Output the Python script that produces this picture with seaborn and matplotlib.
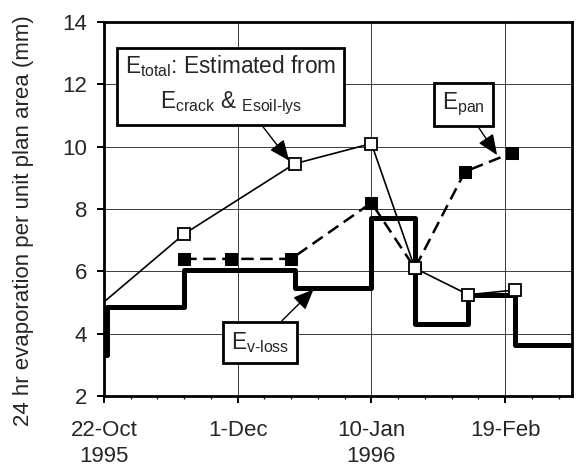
import matplotlib
matplotlib.use("Agg")
import matplotlib.pyplot as plt
import numpy as np
import pandas as pd
import seaborn as sns

# Total evaporation estimated from crack and soil-lysimeter readings (mm/day)
etotal_dates = ["1995-10-13", "1995-11-15", "1995-12-18", "1996-01-10",
                "1996-01-23", "1996-02-08", "1996-02-22"]
etotal_mm = [4.2, 7.2, 9.45, 10.1, 6.1, 5.25, 5.4]

# Pan evaporation (mm/day)
epan_dates = ["1995-11-15", "1995-11-29", "1995-12-17", "1996-01-10",
              "1996-01-23", "1996-02-07", "1996-02-21"]
epan_mm = [6.4, 6.4, 6.4, 8.2, 6.1, 9.2, 9.8]

# Volume-loss evaporation, held constant between readings (mm/day)
evloss_dates = ["1995-10-15", "1995-10-23", "1995-11-15", "1995-12-18",
                "1996-01-10", "1996-01-23", "1996-02-08", "1996-02-22",
                "1996-03-12"]
evloss_mm = [3.3, 4.85, 6.05, 5.45, 7.7, 4.3, 5.25, 3.65, 3.65]

tick_dates = ["1995-10-22", "1995-12-01", "1996-01-10", "1996-02-19"]
tick_labels = ["22-Oct\n1995", "1-Dec", "10-Jan\n1996", "19-Feb"]
y_ticks = [2, 4, 6, 8, 10, 12, 14]

origin = pd.Timestamp("1995-10-22")


def days(dates):
    return (pd.to_datetime(dates) - origin).days.to_numpy()


etotal = pd.DataFrame({"day": days(etotal_dates), "mm": etotal_mm})
epan = pd.DataFrame({"day": days(epan_dates), "mm": epan_mm})
evloss = pd.DataFrame({"day": days(evloss_dates), "mm": evloss_mm})

sns.set_theme(style="white")
plt.rcParams["font.family"] = ["Liberation Sans", "DejaVu Sans"]
plt.rcParams["mathtext.fontset"] = "custom"
plt.rcParams["mathtext.rm"] = "Liberation Sans"
plt.rcParams["mathtext.it"] = "Liberation Sans"
plt.rcParams["mathtext.bf"] = "Liberation Sans:bold"

FS = 16
BOX_FS = 16.3

fig = plt.figure(figsize=(5.77, 4.72), dpi=100)
ax = fig.add_axes([0.1802, 0.161, 0.8111, 0.7924])

sns.lineplot(data=evloss, x="day", y="mm", ax=ax, color="black", lw=3.6,
             drawstyle="steps-post", estimator=None, sort=False, zorder=3)
sns.lineplot(data=epan, x="day", y="mm", ax=ax, color="black", lw=1.8,
             linestyle=(0, (5, 2.6)), marker="s", markersize=8.4,
             markerfacecolor="black", markeredgecolor="black",
             estimator=None, sort=False, zorder=4)
sns.lineplot(data=etotal, x="day", y="mm", ax=ax, color="black", lw=1.2,
             marker="s", markersize=8.2, markerfacecolor="white",
             markeredgecolor="black", markeredgewidth=1.3,
             estimator=None, sort=False, zorder=5)

ax.set_xlim(0, 140)
ax.set_ylim(2, 14)
ax.set_xticks(days(tick_dates))
ax.set_xticklabels(tick_labels, fontsize=FS)
ax.set_xticks(np.arange(0, 141, 8), minor=True)
ax.set_yticks(y_ticks)
ax.set_yticklabels([str(v) for v in y_ticks], fontsize=FS)
for lab in ax.get_xticklabels():
    lab.set_linespacing(1.35)

ax.tick_params(axis="both", which="major", direction="out", length=5,
               width=1.4, color="black", bottom=True, left=True)
ax.tick_params(axis="x", which="major", pad=12)
ax.tick_params(axis="y", which="major", pad=7)
ax.tick_params(axis="x", which="minor", direction="out", length=2.5,
               width=0.9, color="black", bottom=True)

ax.grid(True, which="major", color="#3a3a3a", lw=0.7)
for sp in ax.spines.values():
    sp.set_visible(True)
    sp.set_color("black")
    sp.set_linewidth(2.0)
    sp.set_zorder(6)

ax.set_xlabel("")
ax.set_ylabel("24 hr evaporation per unit plan area (mm)", fontsize=FS)
ax.yaxis.set_label_coords(-0.173, 0.47)
ax.yaxis.label.set_verticalalignment("center")
ax.yaxis.label.set_horizontalalignment("center")

box = dict(boxstyle="square,pad=0.36", fc="white", ec="black", lw=2.0)
arrow = dict(arrowstyle="-|>,head_length=0.9,head_width=0.38",
             color="black", lw=1.0, shrinkA=0, shrinkB=0, mutation_scale=14)

ax.annotate(r"$\mathregular{E_{total}}$: Estimated from" "\n"
            r"$\mathregular{E_{crack}}$ & ${}_{\mathregular{Esoil\text{-}lys}}$",
            xy=(55.4, 9.55), xytext=(37.9, 11.98), textcoords="data",
            ha="center", va="center", fontsize=BOX_FS, linespacing=1.6,
            multialignment="center", bbox=box, arrowprops=arrow, zorder=7)
ax.annotate(r"$\mathregular{E_{pan}}$",
            xy=(117.6, 9.73), xytext=(107.5, 11.35), textcoords="data",
            ha="center", va="center", fontsize=BOX_FS,
            bbox=box, arrowprops=arrow, zorder=7)
ax.annotate(r"$\mathregular{E_{\text{v-loss}}}$",
            xy=(62.7, 5.42), xytext=(46.7, 3.72), textcoords="data",
            ha="center", va="center", fontsize=BOX_FS,
            bbox=box, arrowprops=arrow, zorder=7)

fig.savefig("out.png", dpi=100)
